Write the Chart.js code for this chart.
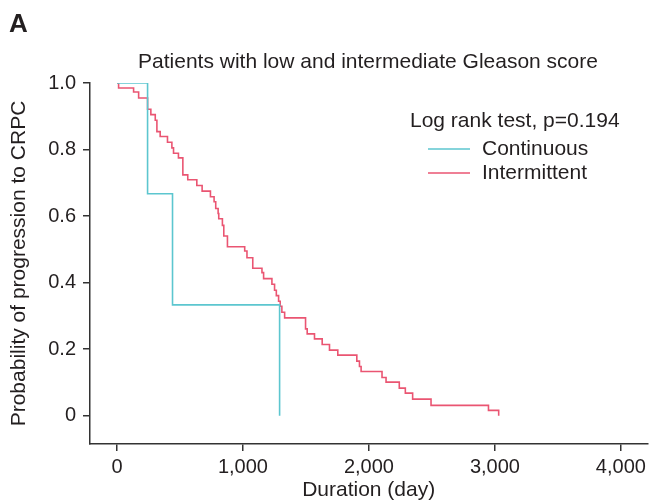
<!DOCTYPE html>
<html>
<head>
<meta charset="utf-8">
<script src="https://cdn.jsdelivr.net/npm/chart.js@4/dist/chart.umd.min.js"></script>
<style>
  html, body { margin: 0; padding: 0; background: #fff; }
  #wrap { width: 650px; height: 503px; position: relative; }
</style>
</head>
<body>
<div id="wrap"><canvas id="kmChart" width="650" height="503"></canvas></div>
<script>
// Kaplan-Meier estimates (time in days, probability after each drop)
const continuousDays = [0, 243, 441, 1291];
const continuousProb = [1.0, 0.667, 0.333, 0.0];

const intermittentDays = [0, 13, 132, 172, 243, 269, 304, 317, 343, 401, 436, 449, 488, 523, 562, 634,
    676, 742, 771, 784, 803, 808, 837, 848, 877, 1014, 1032, 1078, 1151, 1164, 1230, 1251, 1265,
    1283, 1296, 1309, 1331, 1497, 1510, 1568, 1629, 1687, 1753, 1904, 1925, 1938, 2104, 2136,
    2241, 2289, 2347, 2493, 2949, 3030];
const intermittentProb = [1.0, 0.985, 0.973, 0.955, 0.921, 0.905, 0.888, 0.854, 0.839, 0.822, 0.805,
    0.789, 0.775, 0.724, 0.709, 0.692, 0.675, 0.658, 0.643, 0.623, 0.608, 0.592, 0.572, 0.540,
    0.508, 0.495, 0.475, 0.443, 0.430, 0.412, 0.395, 0.377, 0.361, 0.344, 0.329, 0.311, 0.294,
    0.261, 0.246, 0.231, 0.214, 0.197, 0.182, 0.164, 0.148, 0.133, 0.115, 0.101, 0.083, 0.068,
    0.050, 0.031, 0.016, 0.0];

const xTicks = [0, 1000, 2000, 3000, 4000];
const yTicks = [0, 0.2, 0.4, 0.6, 0.8, 1.0];

const seriesNames = ['Continuous', 'Intermittent'];
const seriesColors = ['#5cc6cf', '#ea5572'];

const chartTitle = 'Patients with low and intermediate Gleason score';
const testLabel = 'Log rank test, p=0.194';
const panelLabel = 'A';

const textColor = '#231f20';
const axisColor = '#333333';
const fontFamily = '"Liberation Sans", Arial, sans-serif';

function toPoints(days, prob) {
    return days.map((d, i) => ({ x: d, y: prob[i] }));
}

// Draws the panel letter, the title and the legend block
const annotations = {
    id: 'annotations',
    afterDraw(chart) {
        const ctx = chart.ctx;
        ctx.save();
        ctx.fillStyle = textColor;
        ctx.textBaseline = 'middle';

        ctx.font = 'bold 26px "Liberation Sans Narrow", "Liberation Sans", Arial, sans-serif';
        ctx.textAlign = 'left';
        ctx.fillText(panelLabel, 9, 25);

        ctx.font = '21px ' + fontFamily;
        ctx.textAlign = 'center';
        ctx.fillText(chartTitle, 368, 62);

        ctx.textAlign = 'left';
        ctx.fillText(testLabel, 410, 121);

        const rows = [149, 173];
        seriesNames.forEach((name, i) => {
            ctx.strokeStyle = seriesColors[i];
            ctx.lineWidth = 1.6;
            ctx.beginPath();
            ctx.moveTo(428, rows[i]);
            ctx.lineTo(470, rows[i]);
            ctx.stroke();
            ctx.fillText(name, 482, rows[i]);
        });
        ctx.restore();
    }
};

new Chart(document.getElementById('kmChart'), {
    type: 'line',
    data: {
        datasets: [
            {
                label: seriesNames[0],
                data: toPoints(continuousDays, continuousProb),
                borderColor: seriesColors[0],
                borderWidth: 1.6,
                stepped: 'before',
                pointRadius: 0,
                fill: false
            },
            {
                label: seriesNames[1],
                data: toPoints(intermittentDays, intermittentProb),
                borderColor: seriesColors[1],
                borderWidth: 1.6,
                stepped: 'before',
                pointRadius: 0,
                fill: false
            }
        ]
    },
    options: {
        responsive: false,
        animation: false,
        layout: { padding: { top: 83, right: 2, bottom: 0, left: 0 } },
        plugins: {
            legend: { display: false },
            title: { display: false },
            tooltip: { enabled: false }
        },
        scales: {
            x: {
                type: 'linear',
                min: -214,
                max: 4210,
                afterBuildTicks: scale => { scale.ticks = xTicks.map(v => ({ value: v })); },
                afterFit: scale => { scale.height = 59; },
                border: { display: true, color: axisColor, width: 1.5 },
                grid: { drawOnChartArea: false, drawTicks: true, tickLength: 7, color: axisColor, lineWidth: 1.5 },
                ticks: {
                    color: textColor,
                    padding: 4,
                    maxRotation: 0,
                    font: { family: fontFamily, size: 20 },
                    callback: v => v.toLocaleString('en-US')
                },
                title: {
                    display: true,
                    text: 'Duration (day)',
                    color: textColor,
                    font: { family: fontFamily, size: 21 },
                    padding: { top: 0, bottom: 0 }
                }
            },
            y: {
                type: 'linear',
                min: -0.085,
                max: 1.0,
                afterBuildTicks: scale => { scale.ticks = yTicks.map(v => ({ value: v })); },
                afterFit: scale => { scale.width = 90; },
                border: { display: true, color: axisColor, width: 1.5 },
                grid: { drawOnChartArea: false, drawTicks: true, tickLength: 7, color: axisColor, lineWidth: 1.5 },
                ticks: {
                    color: textColor,
                    padding: 7,
                    font: { family: fontFamily, size: 20 },
                    callback: v => (v === 0 ? '0' : v.toFixed(1))
                },
                title: {
                    display: true,
                    text: 'Probability of progression to CRPC',
                    color: textColor,
                    font: { family: fontFamily, size: 21 },
                    padding: { top: 7, bottom: 0 }
                }
            }
        }
    },
    plugins: [annotations]
});
</script>
</body>
</html>
